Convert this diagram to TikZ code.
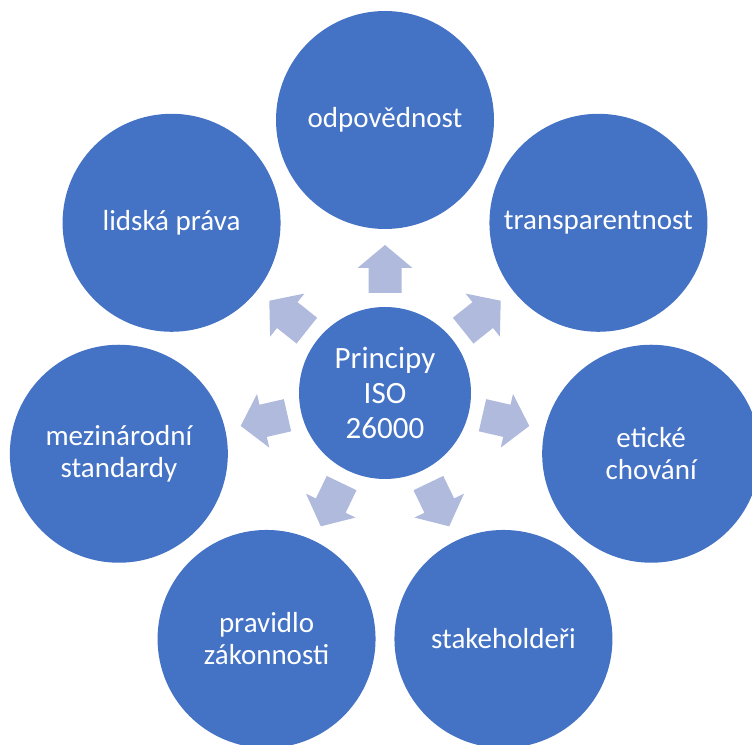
\documentclass[tikz,border=0pt]{standalone}
\usepackage{fontspec}
\setmainfont{Carlito}
\usetikzlibrary{calc}
\definecolor{circ}{HTML}{4472C4}
\definecolor{arr}{HTML}{AFBADC}
\begin{document}
\begin{tikzpicture}[x=1pt,y=1pt,
  outer/.style={circle,fill=circ,minimum size=218pt,inner sep=0pt,text=white,align=center,
    font=\fontsize{29}{32}\selectfont},
  inner/.style={circle,fill=circ,minimum size=172pt,inner sep=0pt,text=white,align=center,
    font=\fontsize{31}{35}\selectfont},
  blockarrow/.style={fill=arr,draw=none}]
\useasboundingbox (0,0) rectangle (752,744);
\node[inner] (c) at (385,351) {Principy\\ISO\\26000};
\node[outer] (o1) at ($(c)+({90}:273)$) {odpovědnost};
\node[outer] (o2) at ($(c)+({90-360/7}:273)$) {transparentnost};
\node[outer] (o3) at ($(c)+({90-2*360/7}:273)$) {etické\\chování};
\node[outer] (o4) at ($(c)+({90-3*360/7}:273)$) {stakeholdeři};
\node[outer] (o5) at ($(c)+({90-4*360/7}:273)$) {pravidlo\\zákonnosti};
\node[outer] (o6) at ($(c)+({90-5*360/7}:273)$) {mezinárodní\\standardy};
\node[outer] (o7) at ($(c)+({90-6*360/7}:273)$) {lidská práva};
\foreach \k in {0,...,6}{
  \begin{scope}[shift={(c.center)},rotate={90-\k*360/7}]
    \fill[blockarrow] (100,-16.5) -- (125,-16.5) -- (125,-27.5) -- (148,0)
      -- (125,27.5) -- (125,16.5) -- (100,16.5) -- cycle;
  \end{scope}
}
\end{tikzpicture}
\end{document}
